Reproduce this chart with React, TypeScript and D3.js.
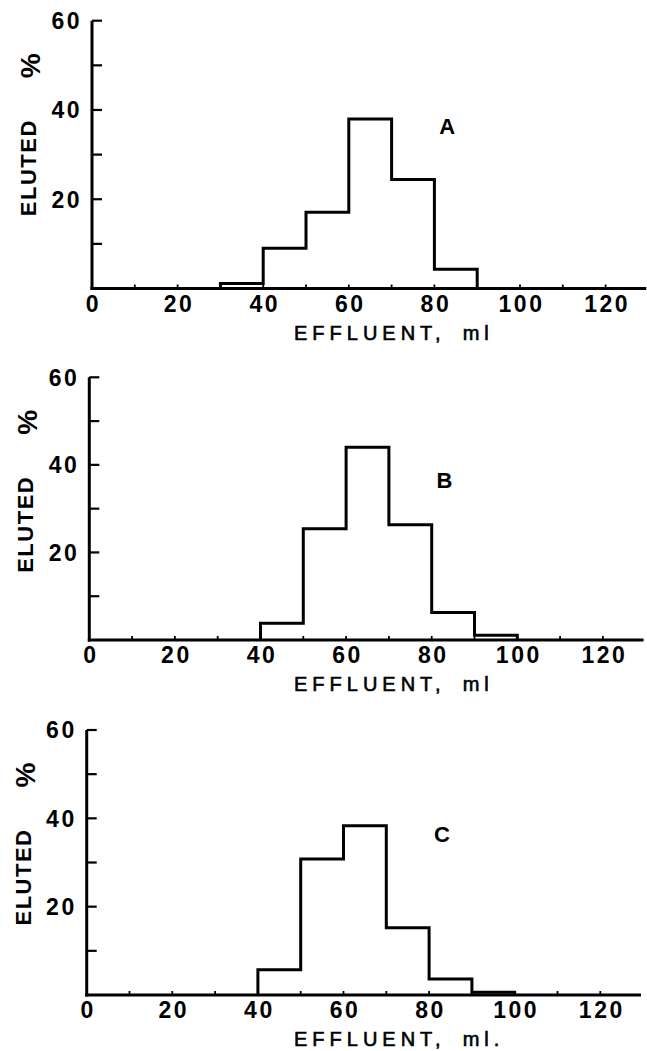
import React from 'react';
import * as d3 from 'd3';

// bin starts (ml) and % eluted per bin
const binWidth = 10;
const binStartsA = [30, 40, 50, 60, 70, 80];
const valuesA = [1.1, 9.0, 17.1, 38.0, 24.4, 4.3];
const binStartsB = [40, 50, 60, 70, 80, 90];
const valuesB = [3.8, 25.4, 44.0, 26.3, 6.3, 1.1];
const binStartsC = [40, 50, 60, 70, 80, 90];
const valuesC = [5.7, 30.8, 38.3, 15.2, 3.6, 0.6];

const xTickLabels = [0, 20, 40, 60, 80, 100, 120];
const xMinorTicks = d3.range(10, 130, 10);
const yTickLabels = [20, 40, 60];
const yMinorTicks = [10, 30, 50];
const panelLetters = ['A', 'B', 'C'];
const xLabels = ['EFFLUENT,', 'EFFLUENT,', 'EFFLUENT,'];
const xUnits = ['ml', 'ml', 'ml.'];

const W = 647;
const H = 1051;
const FONT = '"Liberation Sans", Arial, sans-serif';

// where each panel sits on the page (left axis x, y of 0 and of 60)
const panels = [
  { left: 92, bottom: 288.5, top: 20.7, starts: binStartsA, values: valuesA },
  { left: 89.3, bottom: 640, top: 377.3, starts: binStartsB, values: valuesB },
  { left: 86.7, bottom: 995, top: 730, starts: binStartsC, values: valuesC },
];

function Panel({ p, i }) {
  const x = d3.scaleLinear().domain([0, 130]).range([p.left, p.left + 130 * 4.28]);
  const y = d3.scaleLinear().domain([0, 60]).range([p.bottom, p.top]);

  // outline of the histogram, only the outer steps
  const pts: [number, number][] = [[p.starts[0], 0]];
  p.starts.forEach((s, k) => {
    pts.push([s, p.values[k]]);
    pts.push([s + binWidth, p.values[k]]);
  });
  pts.push([p.starts[p.starts.length - 1] + binWidth, 0]);
  const line = d3.line<[number, number]>().x(d => x(d[0])).y(d => y(d[1]));

  const xEnd = x(129.5);
  const labelCx = p.left - 64;

  return (
    <g>
      {/* axes */}
      <line x1={x(0)} x2={x(0)} y1={y(0) + 1.5} y2={y(60)} stroke="#000" strokeWidth={3} />
      <line x1={x(0) - 1.5} x2={xEnd} y1={y(0)} y2={y(0)} stroke="#000" strokeWidth={3.2} />
      {yTickLabels.concat(yMinorTicks).map(t => (
        <line key={'yt' + t} x1={x(0)} x2={x(0) + 10} y1={y(t)} y2={y(t)} stroke="#000" strokeWidth={2.2} />
      ))}
      {xMinorTicks.map(t => (
        <line key={'xt' + t} x1={x(t)} x2={x(t)} y1={y(0)} y2={y(0) - 4} stroke="#000" strokeWidth={1.8} />
      ))}
      {yTickLabels.map(t => (
        <text key={'yl' + t} x={x(0) - 10} y={y(t)} dy="0.36em" textAnchor="end"
          fontFamily={FONT} fontWeight="bold" fontSize={23} letterSpacing={2.5}>{t}</text>
      ))}
      {xTickLabels.map(t => (
        <text key={'xl' + t} x={x(t) + 1.5} y={y(0) + 23} textAnchor="middle"
          fontFamily={FONT} fontWeight="bold" fontSize={23} letterSpacing={2.5}>{t}</text>
      ))}

      {/* histogram */}
      <path d={line(pts) || ''} fill="none" stroke="#000" strokeWidth={3} strokeLinejoin="miter" />

      {/* panel letter */}
      <text x={x(83)} y={y(36.5)} dy="0.36em" textAnchor="middle"
        fontFamily={FONT} fontWeight="bold" fontSize={22}>{panelLetters[i]}</text>

      {/* y label */}
      <text transform={`translate(${labelCx},${p.top + 147}) rotate(-90)`} dy="0.36em" textAnchor="middle"
        fontFamily={FONT} fontWeight="bold" fontSize={22} letterSpacing={1.5}>ELUTED</text>
      <text transform={`translate(${labelCx + 2},${p.top + 45}) rotate(-90)`} dy="0.36em" textAnchor="middle"
        fontFamily={FONT} fontWeight="bold" fontSize={28}>%</text>

      {/* x label */}
      <text x={294} y={y(0) + 51} fontFamily={FONT} fontSize={20} letterSpacing={5}
        stroke="#000" strokeWidth={0.6}>
        {xLabels[i]}
        <tspan dx={17}>{xUnits[i]}</tspan>
      </text>
    </g>
  );
}

export default function App() {
  return (
    <svg width={W} height={H} style={{ position: 'absolute', left: 0, top: 0, background: '#fff' }}>
      <rect width={W} height={H} fill="#fff" />
      {panels.map((p, i) => <Panel key={i} p={p} i={i} />)}
    </svg>
  );
}
